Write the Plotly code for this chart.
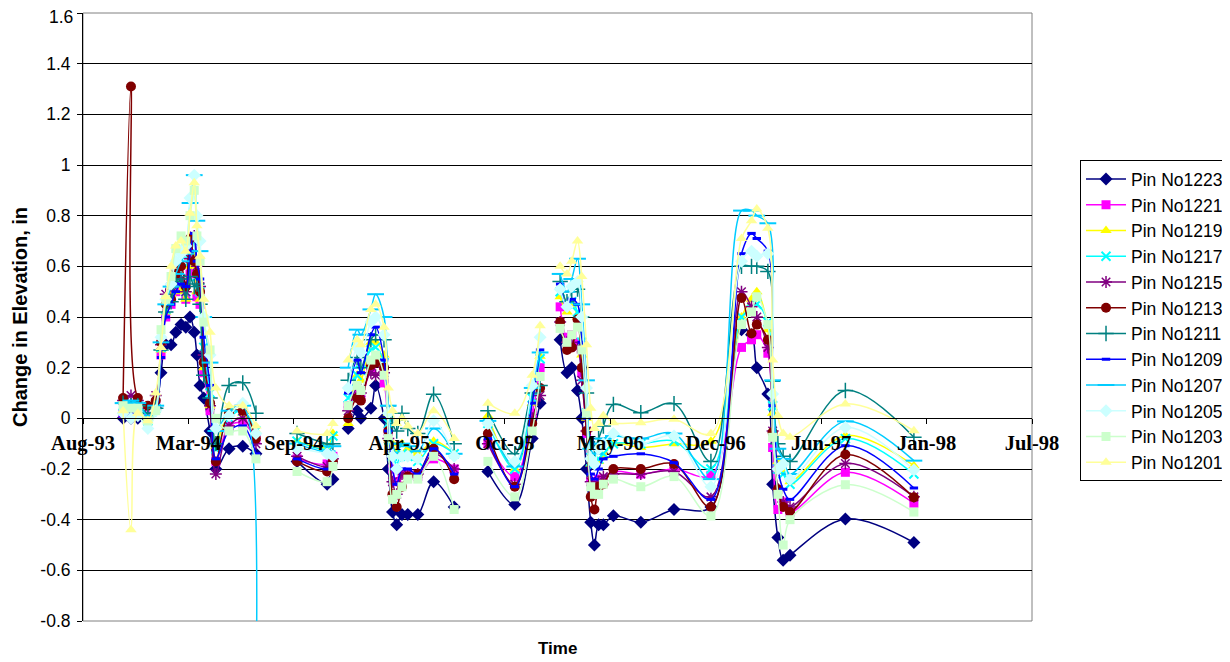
import plotly.graph_objects as go

N = None

dates = [
    "1993-11-04", "1993-11-19", "1993-12-02", "1993-12-21", "1994-01-05", "1994-01-15",
    "1994-01-24", "1994-02-03", "1994-02-12", "1994-02-22", "1994-03-03", "1994-03-11",
    "1994-03-19", "1994-03-24", "1994-03-30", "1994-04-06", "1994-04-18", "1994-04-29",
    "1994-05-24", "1994-06-19", "1994-07-14",
    "1994-08-20",
    "1994-09-30", "1994-11-26", "1994-12-07",
    "1994-12-20",
    "1995-01-05", "1995-01-22", "1995-01-29", "1995-02-17", "1995-02-26", "1995-03-14",
    "1995-03-22", "1995-03-30", "1995-04-07", "1995-04-17", "1995-04-28", "1995-05-17",
    "1995-06-16", "1995-07-25",
    "1995-08-25",
    "1995-09-27", "1995-11-17", "1995-12-20", "1996-01-04",
    "1996-01-22",
    "1996-02-11", "1996-02-24", "1996-03-04", "1996-03-15", "1996-03-23", "1996-04-01",
    "1996-04-09", "1996-04-16", "1996-04-24", "1996-05-03", "1996-05-22", "1996-07-13",
    "1996-09-14", "1996-11-23", "1997-01-20", "1997-02-08", "1997-02-18", "1997-03-11",
    "1997-03-20", "1997-03-30", "1997-04-09", "1997-04-22", "1997-08-05", "1997-12-13",
]

pin_1223 = [0.00, 0.00, 0.00, 0.00, 0.04, 0.18, 0.29, 0.29, 0.34, 0.37, 0.36, 0.40, 0.34, 0.25, 0.13, 0.08, -0.05, -0.20, -0.12, -0.11, -0.14,
            N, -0.17, -0.26, -0.24,
            N, -0.04, 0.03, 0.00, 0.04, 0.13, 0.00, -0.20, -0.37, -0.42, -0.38, -0.38, -0.38, -0.25, -0.35,
            N, -0.21, -0.34, -0.08, 0.06,
            N, 0.31, 0.18, 0.20, 0.11, 0.00, -0.20, -0.41, -0.50, -0.42, -0.42, -0.385, -0.41, -0.36, -0.35, 0.35, 0.33, 0.20, 0.096, -0.26, -0.47, -0.56, -0.54, -0.397, -0.49]
pin_1221 = [0.02, 0.03, 0.02, 0.01, 0.05, 0.25, 0.40, 0.45, 0.50, 0.53, 0.47, 0.57, 0.62, 0.48, 0.45, 0.18, 0.03, -0.17, -0.03, -0.02, -0.08,
            N, -0.16, -0.18, -0.15,
            N, 0.05, 0.09, 0.08, 0.20, 0.22, 0.14, -0.05, -0.20, -0.25, -0.22, -0.22, -0.23, -0.16, -0.20,
            N, -0.10, -0.23, 0.02, 0.20,
            N, 0.44, 0.32, 0.33, 0.30, 0.18, -0.06, -0.25, -0.26, -0.24, -0.24, -0.21, -0.22, -0.20, -0.225, 0.28, 0.31, 0.33, 0.257, -0.115, -0.36, -0.33, -0.37, -0.213, -0.335]
pin_1219 = [0.03, 0.04, 0.03, 0.00, 0.06, 0.27, 0.42, 0.49, 0.54, 0.50, 0.47, 0.60, 0.64, 0.50, 0.47, 0.20, 0.05, -0.11, 0.03, 0.02, -0.05,
            N, -0.09, -0.11, -0.06,
            N, -0.02, 0.17, 0.15, 0.30, 0.30, 0.25, 0.02, -0.10, -0.13, -0.10, -0.12, -0.14, -0.09, -0.14,
            N, 0.01, -0.20, 0.06, 0.245,
            N, 0.48, 0.42, 0.45, 0.40, 0.25, 0.00, -0.18, -0.18, -0.17, -0.15, -0.10, -0.115, -0.10, -0.09, 0.40, 0.47, 0.50, 0.35, 0.02, -0.17, -0.21, -0.25, -0.068, -0.187]
pin_1217 = [0.05, 0.06, 0.05, -0.01, 0.04, 0.28, 0.43, 0.48, 0.55, 0.55, 0.50, 0.62, 0.70, 0.56, 0.50, 0.28, 0.10, -0.12, 0.00, 0.03, -0.05,
            N, -0.09, -0.12, -0.07,
            N, 0.08, 0.17, 0.19, 0.27, 0.28, 0.22, -0.02, -0.15, -0.18, -0.14, -0.15, -0.17, -0.10, -0.14,
            N, -0.02, -0.20, 0.08, 0.235,
            N, 0.50, 0.45, 0.46, 0.42, 0.30, 0.02, -0.17, -0.18, -0.16, -0.14, -0.10, -0.10, -0.09, -0.20, 0.40, 0.43, 0.45, 0.38, 0.05, -0.20, -0.22, -0.26, -0.08, -0.22]
pin_1215 = [0.07, 0.09, 0.07, 0.04, 0.09, 0.29, 0.49, 0.52, 0.57, 0.55, 0.50, 0.63, 0.72, 0.60, 0.52, 0.25, 0.05, -0.22, -0.03, 0.00, -0.10,
            N, -0.15, -0.19, -0.16,
            N, 0.03, 0.12, 0.10, 0.18, 0.17, 0.18, -0.08, -0.25, -0.30, -0.22, -0.22, -0.22, -0.14, -0.20,
            N, -0.10, -0.26, 0.00, 0.09,
            N, 0.38, 0.30, 0.30, 0.28, 0.15, -0.05, -0.25, -0.27, -0.25, -0.23, -0.22, -0.22, -0.21, -0.31, 0.50, 0.44, 0.40, 0.28, -0.05, -0.28, -0.33, -0.35, -0.178, -0.31]
pin_1213 = [0.08, 1.31, 0.08, 0.05, 0.07, 0.30, 0.45, 0.47, 0.57, 0.60, 0.52, 0.71, 0.62, 0.57, 0.50, 0.22, 0.06, -0.17, 0.02, 0.03, -0.08,
            N, -0.17, -0.21, -0.17,
            N, 0.00, 0.08, 0.07, 0.21, 0.22, 0.20, -0.05, -0.30, -0.35, -0.27, -0.23, -0.22, -0.12, -0.24,
            N, -0.06, -0.27, -0.02, 0.12,
            N, 0.38, 0.27, 0.28, 0.39, 0.20, -0.05, -0.31, -0.36, -0.27, -0.26, -0.20, -0.20, -0.18, -0.35, 0.475, 0.335, 0.37, 0.31, -0.055, -0.28, -0.35, -0.37, -0.143, -0.312]
pin_1211 = [0.06, 0.05, 0.05, 0.02, 0.04, 0.27, 0.42, 0.46, 0.54, 0.55, 0.47, 0.56, 0.52, 0.53, 0.45, 0.17, 0.08, -0.10, 0.13, 0.14, 0.02,
            N, -0.06, -0.10, -0.10,
            N, 0.15, 0.24, 0.20, 0.31, 0.33, 0.31, 0.05, -0.02, -0.05, 0.02, -0.04, -0.06, 0.095, -0.10,
            N, 0.03, -0.14, 0.10, 0.13,
            N, 0.54, 0.46, 0.50, 0.51, 0.40, 0.10, -0.10, -0.12, -0.08, -0.03, 0.055, 0.022, 0.058, -0.17, 0.60, 0.60, 0.60, 0.58, 0.146, -0.10, -0.15, -0.17, 0.11, -0.075]
pin_1209 = [0.01, 0.02, 0.01, 0.00, 0.03, 0.24, 0.40, 0.45, 0.50, 0.53, 0.52, 0.66, 0.73, 0.62, 0.55, 0.32, 0.13, -0.16, -0.05, -0.03, -0.14,
            N, -0.16, -0.20, -0.18,
            N, 0.10, 0.23, 0.18, 0.33, 0.36, 0.23, -0.05, -0.20, -0.26, -0.20, -0.20, -0.22, -0.12, -0.22,
            N, -0.08, -0.27, 0.06, 0.27,
            N, 0.53, 0.44, 0.47, 0.45, 0.30, 0.00, -0.22, -0.24, -0.20, -0.16, -0.15, -0.14, -0.175, -0.32, 0.65, 0.73, 0.71, 0.66, 0.05, -0.20, -0.28, -0.32, -0.108, -0.275]
pin_1207 = [0.06, 0.07, 0.06, 0.01, 0.05, 0.30, 0.45, 0.52, 0.57, 0.62, 0.65, 0.85, 0.96, 0.78, 0.66, 0.40, 0.22, -0.05, 0.03, 0.05, -1.10,
            N, -0.10, -0.13, -0.11,
            N, 0.20, 0.35, 0.33, 0.43, 0.49, 0.40, 0.05, -0.10, -0.14, -0.10, -0.11, -0.13, -0.04, -0.14,
            N, -0.01, -0.19, 0.12, 0.26,
            N, 0.57, 0.50, 0.55, 0.63, 0.45, 0.15, -0.12, -0.14, -0.10, -0.08, -0.07, -0.08, -0.06, -0.24, 0.82, 0.82, 0.80, 0.77, 0.15, -0.12, -0.16, -0.22, -0.012, -0.167]
pin_1205 = [0.02, 0.00, 0.01, -0.04, 0.03, 0.32, 0.47, 0.53, 0.62, 0.65, 0.68, 0.87, 0.96, 0.80, 0.70, 0.40, 0.25, -0.04, 0.01, 0.06, -0.06,
            N, -0.12, -0.14, -0.15,
            N, 0.12, 0.28, 0.26, 0.38, 0.40, 0.33, 0.02, -0.15, -0.20, -0.15, -0.15, -0.16, -0.01, -0.15,
            N, -0.02, -0.17, 0.13, 0.32,
            N, 0.51, 0.44, 0.52, 0.54, 0.40, 0.12, -0.16, -0.18, -0.12, -0.10, -0.06, -0.10, -0.07, -0.27, 0.62, 0.66, 0.64, 0.65, 0.096, -0.20, -0.18, -0.24, -0.036, -0.204]
pin_1203 = [0.05, 0.04, 0.04, -0.01, 0.03, 0.35, 0.47, 0.56, 0.67, 0.72, 0.70, 0.80, 0.90, 0.72, 0.62, 0.38, 0.27, 0.00, -0.05, -0.05, -0.16,
            N, -0.21, -0.25, -0.19,
            N, 0.05, 0.13, 0.11, 0.23, 0.25, 0.17, -0.08, -0.32, -0.30, -0.27, -0.24, -0.24, -0.15, -0.36,
            N, -0.17, -0.31, -0.05, 0.165,
            N, 0.355, 0.30, 0.33, 0.36, 0.27, 0.02, -0.27, -0.30, -0.30, -0.26, -0.24, -0.27, -0.23, -0.385, 0.37, 0.42, 0.48, 0.37, -0.075, -0.30, -0.50, -0.40, -0.262, -0.37]
pin_1201 = [0.03, -0.44, 0.02, -0.01, 0.10, 0.28, 0.48, 0.60, 0.68, 0.70, 0.66, 0.81, 0.93, 0.76, 0.64, 0.47, 0.34, 0.12, 0.05, 0.05, -0.03,
            N, -0.05, -0.06, -0.02,
            N, 0.23, 0.31, 0.29, 0.43, 0.45, 0.36, 0.12, 0.03, -0.02, 0.00, -0.03, -0.06, 0.03, -0.08,
            N, 0.06, 0.02, 0.17, 0.365,
            N, 0.60, 0.57, 0.62, 0.70, 0.56, 0.29, 0.04, -0.04, -0.02, 0.01, -0.017, -0.017, -0.004, -0.06, 0.71, 0.78, 0.826, 0.75, 0.23, 0.01, -0.06, -0.075, 0.057, -0.049]

series_names = ["Pin No1223", "Pin No1221", "Pin No1219", "Pin No1217", "Pin No1215", "Pin No1213",
                "Pin No1211", "Pin No1209", "Pin No1207", "Pin No1205", "Pin No1203", "Pin No1201"]
series_values = [pin_1223, pin_1221, pin_1219, pin_1217, pin_1215, pin_1213,
                 pin_1211, pin_1209, pin_1207, pin_1205, pin_1203, pin_1201]

x_tick_dates = ["1993-08-20", "1994-03-08", "1994-09-24", "1995-04-12", "1995-10-29",
                "1996-05-16", "1996-12-02", "1997-06-20", "1998-01-06", "1998-07-25"]
x_tick_labels = ["Aug-93", "Mar-94", "Sep-94", "Apr-95", "Oct-95",
                 "May-96", "Dec-96", "Jun-97", "Jan-98", "Jul-98"]
y_tick_vals = [-0.8, -0.6, -0.4, -0.2, 0, 0.2, 0.4, 0.6, 0.8, 1.0, 1.2, 1.4, 1.6]
y_tick_labels = ["-0.8", "-0.6", "-0.4", "-0.2", "0", "0.2", "0.4", "0.6", "0.8", "1", "1.2", "1.4", "1.6"]
y_top_label = y_tick_labels[-1]
y_axis_labels = y_tick_labels[:-1] + [""]   # top label drawn as annotation so it is not clipped

# styles: (color, symbol, size, marker line width)
styles = [
    ("#000080", "diamond", 10, 0),
    ("#FF00FF", "square", 9, 0),
    ("#FFFF00", "triangle-up", 10, 0),
    ("#00FFFF", "x-thin-open", 9, 2),
    ("#800080", "asterisk-open", 10, 1.5),
    ("#800000", "circle", 10, 0),
    ("#008080", "cross-thin-open", 11, 1.5),
    ("#0000FF", "line-ew-open", 6, 3),
    ("#00CCFF", "line-ew-open", 12, 2),
    ("#CCFFFF", "diamond", 10, 0),
    ("#CCFFCC", "square", 9, 0),
    ("#FFFF99", "triangle-up", 10, 0),
]

fig = go.Figure()
for name, vals, (col, sym, sz, lw) in zip(series_names, series_values, styles):
    fig.add_trace(go.Scatter(
        x=dates, y=vals, name=name, mode="lines+markers",
        line=dict(color=col, width=1.5, shape="spline", smoothing=1.0),
        marker=dict(symbol=sym, size=sz, color=col, line=dict(color=col, width=lw)),
        connectgaps=False,
    ))

# the page body adds an 8px offset, so the figure is sized/margined to compensate
fig.update_layout(
    width=1222, height=654,
    margin=dict(l=75, r=198, t=5, b=41, autoexpand=False),
    plot_bgcolor="white", paper_bgcolor="white",
    showlegend=True,
    legend=dict(x=1.0506, y=0.758, xanchor="left", yanchor="top",
                bordercolor="black", borderwidth=1, bgcolor="white",
                font=dict(family="Arial, Liberation Sans", size=17.5, color="black"),
                tracegroupgap=0, itemwidth=40),
    xaxis=dict(type="date", range=["1993-08-20", "1998-07-25"], anchor="free", position=1/3,
               tickmode="array", tickvals=x_tick_dates, ticktext=x_tick_labels,
               ticks="outside", ticklen=5, tickcolor="black",
               showline=True, linecolor="black", linewidth=1,
               showgrid=False, zeroline=False, automargin=False,
               ticklabeloverflow="allow",
               tickfont=dict(family="Times New Roman, Liberation Serif", size=20.5, color="black", weight="bold"),
               ticklabelstandoff=1),
    yaxis=dict(range=[-0.8, 1.6], tickmode="array", tickvals=y_tick_vals, ticktext=y_axis_labels,
               showgrid=True, gridcolor="black", gridwidth=1, zeroline=False,
               showline=True, linecolor="black", linewidth=1, automargin=False,
               ticks="outside", ticklen=5, tickcolor="black",
               ticklabeloverflow="allow",
               tickfont=dict(family="Arial, Liberation Sans", size=17.5, color="black"),
               ticklabelstandoff=3),
    shapes=[dict(type="rect", xref="paper", yref="paper", x0=0, x1=1, y0=0, y1=1,
                 line=dict(color="#808080", width=1), layer="below")],
    annotations=[
        dict(text=y_top_label, xref="paper", yref="y", x=0, y=y_tick_vals[-1],
             xanchor="right", yanchor="top", xshift=-8, yshift=8, showarrow=False,
             font=dict(family="Arial, Liberation Sans", size=17.5, color="black")),
        dict(text="<b>Change in Elevation, in</b>", xref="paper", yref="paper",
             x=-0.0664, y=0.5, textangle=-90, showarrow=False,
             font=dict(family="Arial, Liberation Sans", size=20, color="black"),
             xanchor="center", yanchor="middle"),
        dict(text="<b>Time</b>", xref="paper", yref="paper", x=0.4995, y=-0.046,
             showarrow=False, font=dict(family="Arial, Liberation Sans", size=17, color="black"),
             xanchor="center", yanchor="middle"),
    ],
)

fig.write_html("out.html")
